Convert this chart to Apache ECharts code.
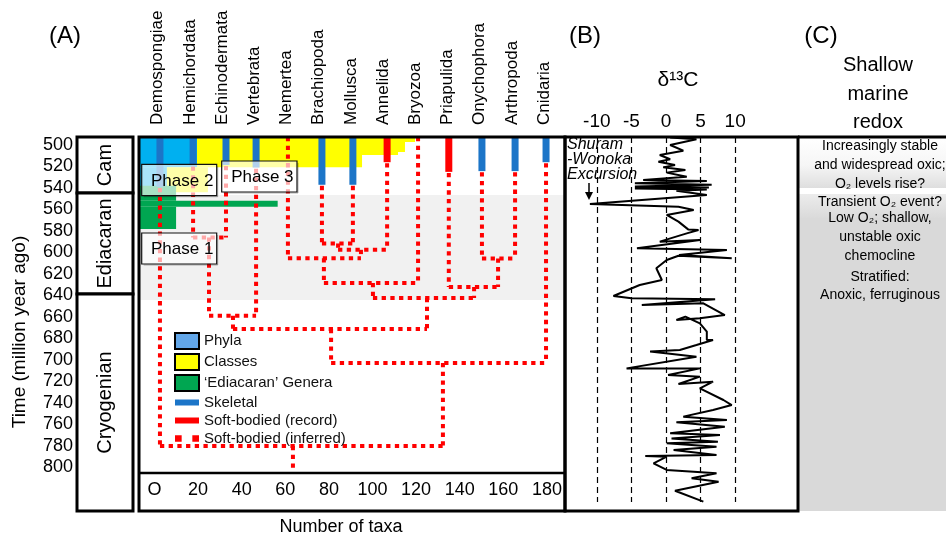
<!DOCTYPE html>
<html>
<head>
<meta charset="utf-8">
<script src="https://cdn.jsdelivr.net/npm/echarts@6/dist/echarts.min.js"></script>
<style>
  html, body { margin: 0; padding: 0; background: #fff; }
  #chart { width: 946px; height: 537px; }
</style>
</head>
<body>
<div id="chart"></div>
<script>
// ---- values ----
const timeTicks = [500, 520, 540, 560, 580, 600, 620, 640, 660, 680, 700, 720, 740, 760, 780, 800]
const taxaTicks = [0, 20, 40, 60, 80, 100, 120, 140, 160, 180]
const d13cTicks = [-10, -5, 0, 5, 10]

const periods = ['Cam', 'Ediacaran', 'Cryogenian']
const periodTop = [492.56, 544.7, 638.6]
const periodBase = [544.7, 638.6, 840.47]
const ediacaranBand = [546.5, 644.2]

const phyla = ['Demospongiae', 'Hemichordata', 'Echinodermata', 'Vertebrata', 'Nemertea', 'Brachiopoda',
  'Mollusca', 'Annelida', 'Bryozoa', 'Priapulida', 'Onychophora', 'Arthropoda', 'Cnidaria']
// position of each lineage on the taxa axis
const phylumX = [2.5, 17.7, 32.8, 46.6, 61.2, 76.8, 91, 106.7, 120.9, 135, 150.2, 165.4, 179.6]
// fossil record at the top of each lineage and the age it reaches down to
const recordType = ['skeletal', 'skeletal', 'skeletal', 'skeletal', null, 'skeletal',
  'skeletal', 'record', null, 'record', 'skeletal', 'skeletal', 'skeletal']
const recordBase = [539, 519, 518.6, 521, null, 537, 537, 516, null, 525, 524.3, 524.3, 516]

// inferred divergences: [clade, child A, child B, age, position]
const clades = [
  ['Ambulacraria', 'Hemichordata', 'Echinodermata', 586, 25],
  ['Deuterostomia', 'Ambulacraria', 'Vertebrata', 658.9, 36],
  ['BraMol', 'Brachiopoda', 'Mollusca', 591.6, 84.2],
  ['BraMolAnn', 'BraMol', 'Annelida', 597.5, 94.7],
  ['NemBraMolAnn', 'Nemertea', 'BraMolAnn', 605.4, 77.7],
  ['Lophotrochozoa', 'NemBraMolAnn', 'Bryozoa', 628.4, 100.2],
  ['OnyArt', 'Onychophora', 'Arthropoda', 605.5, 157.6],
  ['Ecdysozoa', 'Priapulida', 'OnyArt', 632.1, 146.6],
  ['Protostomia', 'Lophotrochozoa', 'Ecdysozoa', 642.3, 125],
  ['Bilateria', 'Deuterostomia', 'Protostomia', 671.2, 81],
  ['Eumetazoa', 'Bilateria', 'Cnidaria', 702.8, 132.3],
  ['Metazoa', 'Demospongiae', 'Eumetazoa', 780, 63.5],
]
const rootBase = 805.1

// diversity steps: [age top, age base, cumulative taxa]
const phylaArea = [[492.56, 520.6, 19.5], [520.6, 544, 5.7]]
const classesArea = [[492.56, 497.2, 119.5], [497.2, 506.5, 114.9], [506.5, 509.3, 111.7],
  [509.3, 520.6, 95.2], [520.6, 544, 24.5]]
const generaArea = [[538, 551.8, 9.9], [551.8, 557.4, 56.5], [557.4, 578.2, 9.9]]

// delta13C curve: [permil, age]
const d13c = [
  [0.6, 493], [4.4, 494.7], [0.6, 500], [2.5, 505.3], [-0.9, 509.3], [0.6, 513.3], [-1.1, 515.5],
  [1.3, 518.6], [-0.4, 520.8], [2.8, 523.3], [0.1, 525.7], [3.0, 529.5], [-3.3, 532.6], [5.9, 533.5],
  [-4.5, 535.5], [6.6, 537], [-4.5, 538.5], [6.2, 539.5], [-4.5, 540.5], [5.9, 541.5], [1.5, 542.5],
  [5.9, 546.5], [-11.0, 554.9], [1.8, 557.4], [4.0, 560.5], [0.1, 565.1], [1.8, 571.3], [3.2, 578.5],
  [4.7, 579.1], [3.0, 582.2], [-0.9, 589.9], [4.9, 588.4], [-4.2, 596.1], [8.8, 597.7], [1.9, 602.3],
  [9.5, 605.4], [1.8, 603], [0.1, 607], [-1.4, 614.7], [-0.6, 625.6], [-3.8, 630.2], [-7.6, 640.5],
  [-5.0, 642.6], [7.1, 643.6], [-3.5, 648.8], [5.4, 647.3], [8.5, 658.2], [4.9, 661.2], [1.5, 662.8],
  [2.8, 659.7], [4.9, 665.9], [5.9, 673.6], [5.9, 681.4], [6.8, 681.4], [4.4, 686.1], [2.0, 690.7],
  [-2.3, 692.2], [4.4, 696.9], [-5.7, 707.8], [4.9, 707.8], [0.3, 714], [4.9, 715.5], [1.8, 722.3],
  [6.8, 720.2], [4.9, 726.4], [8.3, 737.2], [9.5, 741.9], [6.8, 746.5], [2.5, 752.7], [8.8, 755.8],
  [1.5, 758], [8.5, 762], [0.6, 768.2], [7.8, 769.8], [0.8, 773], [7.5, 776], [0.1, 777.5],
  [7.3, 780.6], [1.1, 783.7], [7.3, 788.4], [-3.0, 789.3], [0.1, 789.9], [-1.8, 796.1], [0.1, 802.3],
  [4.0, 803.9], [7.3, 805.4], [3.7, 810.1], [7.6, 813.2], [1.3, 821.6], [5.4, 831.8],
]

// ---- layout ----
const FONT = '"Liberation Sans", Arial, sans-serif'
const T0 = 492.56
const TB = 840.47
const X_MIN = -7.11
const X_MAX = 188.3
const DASH_END = 832.1

const BLUE = '#1c75c8'
const RED = '#ff0000'

// build the tree segments
const node = {}
phyla.forEach((p, i) => {
  node[p] = { x: phylumX[i], t: recordBase[i] == null ? T0 : recordBase[i] + 1 }
})
const treeSegs = []
clades.forEach(([name, a, b, t, x]) => {
  ;[a, b].forEach(c => treeSegs.push([node[c].x, node[c].t, node[c].x, t]))
  treeSegs.push([node[a].x, t, node[b].x, t])
  node[name] = { x, t }
})
treeSegs.push([node.Metazoa.x, node.Metazoa.t, node.Metazoa.x, rootBase])

const spanRect = (params, api) => {
  const a = api.coord([api.value(2), api.value(0)])
  const b = api.coord([api.value(3), api.value(1)])
  return {
    type: 'rect',
    shape: { x: a[0], y: a[1], width: b[0] - a[0], height: b[1] - a[1] },
    style: { fill: api.visual('color') },
  }
}
const barRect = (params, api) => {
  const a = api.coord([api.value(0), api.value(1)])
  const b = api.coord([api.value(0), api.value(2)])
  return {
    type: 'rect',
    shape: { x: a[0] - 3.5, y: a[1], width: 7, height: b[1] - a[1] },
    style: { fill: api.visual('color') },
  }
}
const dotSeg = (params, api) => {
  const a = api.coord([api.value(0), api.value(1)])
  const b = api.coord([api.value(2), api.value(3)])
  return {
    type: 'line',
    shape: { x1: a[0], y1: a[1], x2: b[0], y2: b[1] },
    style: { stroke: api.visual('color'), lineWidth: 4, lineDash: [4.3, 4.4] },
  }
}
const periodBox = (params, api) => {
  const a = api.coord([0, api.value(0)])
  const b = api.coord([1, api.value(1)])
  return {
    type: 'group',
    children: [
      {
        type: 'rect',
        shape: { x: a[0], y: a[1], width: b[0] - a[0], height: b[1] - a[1] },
        style: { fill: '#fff', stroke: '#000', lineWidth: 3 },
      },
      {
        type: 'text',
        x: (a[0] + b[0]) / 2,
        y: (a[1] + b[1]) / 2,
        rotation: Math.PI / 2,
        style: {
          text: periods[params.dataIndex], font: '20px ' + FONT, fill: '#000',
          align: 'center', verticalAlign: 'middle', textAlign: 'center', textVerticalAlign: 'middle',
        },
      },
    ],
  }
}

const skeletalBars = []
const recordBars = []
phyla.forEach((p, i) => {
  if (recordType[i] === 'skeletal') skeletalBars.push([phylumX[i], T0, recordBase[i]])
  if (recordType[i] === 'record') recordBars.push([phylumX[i], T0, recordBase[i]])
})

const txt = (text, x, y, size, extra) => ({
  type: 'text', z: 60,
  style: Object.assign({
    text, x, y, font: size + 'px ' + FONT, fill: '#000',
    align: 'center', verticalAlign: 'middle', textAlign: 'center', textVerticalAlign: 'middle',
  }, extra || {}),
})
const phaseBox = (label, x, y, w, h) => [
  {
    type: 'line', z: 49, shape: { x1: x + 2, y1: y + h + 1, x2: x + w + 1, y2: y + h + 1 },
    style: { stroke: 'rgba(0,0,0,0.3)', lineWidth: 1 },
  },
  {
    type: 'line', z: 49, shape: { x1: x + w + 1, y1: y + 2, x2: x + w + 1, y2: y + h + 1 },
    style: { stroke: 'rgba(0,0,0,0.3)', lineWidth: 1 },
  },
  {
    type: 'rect', z: 50, shape: { x, y, width: w, height: h },
    style: { fill: 'rgba(255,255,255,0.66)', stroke: '#111', lineWidth: 1.2 },
  },
  {
    type: 'text', z: 51,
    style: { text: label, x: x + w / 2 + 3, y: y + h / 2 + 1, font: '17px ' + FONT, fill: '#000',
      align: 'center', verticalAlign: 'middle', textAlign: 'center', textVerticalAlign: 'middle' },
  },
]

const chart = echarts.init(document.getElementById('chart'))
chart.setOption({
  animation: false,
  backgroundColor: '#fff',
  textStyle: { fontFamily: FONT },
  grid: [
    { left: 139, top: 137, width: 426, height: 374 },
    { left: 141.7, top: 137, width: 418.4, height: 374 },
    { left: 77, top: 137, width: 56, height: 374 },
    { left: 565, top: 137, width: 233, height: 374 },
  ],
  xAxis: [
    {
      gridIndex: 0, type: 'value', min: X_MIN, max: X_MAX, position: 'bottom',
      axisLine: { show: false }, axisTick: { show: false }, splitLine: { show: false },
      axisLabel: {
        inside: true, margin: 12, customValues: taxaTicks, fontSize: 18, color: '#000', fontFamily: FONT,
        formatter: v => (v === 0 ? 'O' : String(v)),
      },
    },
    {
      gridIndex: 1, type: 'category', data: phyla, position: 'top',
      axisLine: { show: false }, axisTick: { show: false },
      axisLabel: { rotate: -90, interval: 0, margin: 12, fontSize: 17, color: '#000', fontFamily: FONT },
    },
    { gridIndex: 2, type: 'value', min: 0, max: 1, show: false },
    {
      gridIndex: 3, type: 'value', min: -14.6, max: 19.08, position: 'top',
      axisLine: { show: false }, axisTick: { show: false }, splitLine: { show: false },
      axisLabel: { customValues: d13cTicks, margin: 6, fontSize: 19, color: '#000', fontFamily: FONT },
    },
  ],
  yAxis: [
    { gridIndex: 0, type: 'value', inverse: true, min: T0, max: TB, show: false },
    { gridIndex: 1, type: 'value', inverse: true, min: T0, max: TB, show: false },
    {
      gridIndex: 2, type: 'value', inverse: true, min: T0, max: TB,
      axisLine: { show: false }, axisTick: { show: false }, splitLine: { show: false },
      axisLabel: { customValues: timeTicks, margin: 4, fontSize: 18, color: '#000', fontFamily: FONT },
    },
    { gridIndex: 3, type: 'value', inverse: true, min: T0, max: TB, show: false },
  ],
  legend: {
    left: 174, top: 332, orient: 'vertical', padding: 0, itemGap: 3,
    itemWidth: 24, itemHeight: 16, selectedMode: false,
    textStyle: { fontSize: 15, color: '#111', fontFamily: FONT },
    data: [
      { name: 'Phyla', icon: 'rect', itemStyle: { color: '#62a6e8', borderColor: '#000', borderWidth: 2 } },
      { name: 'Classes', icon: 'rect', itemStyle: { color: '#ffff00', borderColor: '#000', borderWidth: 2 } },
      { name: '\u2018Ediacaran\u2019 Genera', icon: 'rect', itemStyle: { color: '#00a651', borderColor: '#000', borderWidth: 2 } },
      { name: 'Skeletal', icon: 'path://M0 0H24V6H0Z', itemStyle: { color: BLUE } },
      { name: 'Soft-bodied (record)', icon: 'path://M0 0H24V6H0Z', itemStyle: { color: RED } },
      { name: 'Soft-bodied (inferred)', icon: 'path://M0 0H5V5H0ZM13 0H18V5H13Z', itemStyle: { color: RED } },
    ],
  },
  series: [
    {
      name: 'Ediacaran band', type: 'custom', xAxisIndex: 0, yAxisIndex: 0, silent: true, z: 1,
      itemStyle: { color: '#f1f1f1' }, renderItem: spanRect,
      data: [[ediacaranBand[0], ediacaranBand[1], X_MIN, X_MAX]],
    },
    {
      name: 'Phyla', type: 'custom', xAxisIndex: 0, yAxisIndex: 0, silent: true, z: 2,
      itemStyle: { color: '#00b0f0' }, renderItem: spanRect,
      data: phylaArea.map(r => [r[0], r[1], X_MIN, r[2]]),
    },
    {
      name: 'Classes', type: 'custom', xAxisIndex: 0, yAxisIndex: 0, silent: true, z: 2,
      itemStyle: { color: '#ffff00' }, renderItem: spanRect,
      data: classesArea.map(r => {
        const p = phylaArea.find(q => r[0] >= q[0] && r[0] < q[1])
        return [r[0], r[1], p[2], r[2]]
      }),
    },
    {
      name: '\u2018Ediacaran\u2019 Genera', type: 'custom', xAxisIndex: 0, yAxisIndex: 0, silent: true, z: 2,
      itemStyle: { color: '#00a651' }, renderItem: spanRect,
      data: generaArea.map(r => [r[0], r[1], X_MIN, r[2]]),
    },
    {
      name: 'Soft-bodied (inferred)', type: 'custom', xAxisIndex: 0, yAxisIndex: 0, silent: true, z: 3,
      itemStyle: { color: RED }, renderItem: dotSeg, data: treeSegs,
    },
    {
      name: 'Skeletal', type: 'custom', xAxisIndex: 0, yAxisIndex: 0, silent: true, z: 4,
      itemStyle: { color: BLUE }, renderItem: barRect, data: skeletalBars,
    },
    {
      name: 'Soft-bodied (record)', type: 'custom', xAxisIndex: 0, yAxisIndex: 0, silent: true, z: 4,
      itemStyle: { color: RED }, renderItem: barRect, data: recordBars,
    },
    {
      name: 'Periods', type: 'custom', xAxisIndex: 2, yAxisIndex: 2, silent: true, z: 2,
      renderItem: periodBox, data: periods.map((p, i) => [periodTop[i], periodBase[i]]),
    },
    {
      name: 'd13C', type: 'line', xAxisIndex: 3, yAxisIndex: 3, silent: true, z: 5,
      data: d13c, symbol: 'none', lineStyle: { color: '#000', width: 2 },
      markLine: {
        silent: true, symbol: 'none', label: { show: false },
        lineStyle: { color: '#000', width: 1.2, type: [6, 4] },
        data: d13cTicks.map(v => [{ coord: [v, T0] }, { coord: [v, DASH_END] }]),
      },
    },
  ],
  graphic: [
    // panel C shading
    { type: 'rect', z: -5, shape: { x: 798, y: 137, width: 148, height: 374 }, style: { fill: '#d9d9d9' } },
    {
      type: 'rect', z: -4, shape: { x: 798, y: 137, width: 148, height: 51 },
      style: { fill: { type: 'linear', x: 0, y: 0, x2: 0, y2: 1,
        colorStops: [{ offset: 0, color: '#ffffff' }, { offset: 0.55, color: '#f6f6f6' }, { offset: 1, color: '#dedede' }] } },
    },
    { type: 'rect', z: -4, shape: { x: 798, y: 188, width: 148, height: 6 }, style: { fill: '#ffffff' } },
    {
      type: 'rect', z: -4, shape: { x: 798, y: 194, width: 148, height: 24 },
      style: { fill: { type: 'linear', x: 0, y: 0, x2: 0, y2: 1,
        colorStops: [{ offset: 0, color: '#ececec' }, { offset: 1, color: '#dadada' }] } },
    },
    // frames
    { type: 'rect', z: 70, shape: { x: 139, y: 137, width: 426, height: 374 }, style: { fill: 'transparent', stroke: '#000', lineWidth: 3 } },
    { type: 'rect', z: 70, shape: { x: 565, y: 137, width: 233, height: 374 }, style: { fill: 'transparent', stroke: '#000', lineWidth: 3 } },
    { type: 'line', z: 70, shape: { x1: 139, y1: 473, x2: 565, y2: 473 }, style: { stroke: '#000', lineWidth: 2.5 } },
    { type: 'line', z: 70, shape: { x1: 798, y1: 137, x2: 946, y2: 137 }, style: { stroke: '#000', lineWidth: 3 } },
    // phase annotations
    ...phaseBox('Phase 2', 141.7, 164.3, 75, 31.4),
    ...phaseBox('Phase 3', 221.7, 161, 75.3, 31),
    ...phaseBox('Phase 1', 141.7, 233, 75, 31),
    // panel labels and titles
    txt('(A)', 65, 36, 24),
    txt('(B)', 585, 36, 24),
    txt('(C)', 821, 36, 24),
    txt('\u03b4\u00b9\u00b3C', 678, 80, 21),
    txt('Shallow\nmarine\nredox', 878, 94, 20, { lineHeight: 28.5 }),
    txt('Number of taxa', 341, 527, 18),
    {
      type: 'text', z: 60, x: 20, y: 332, rotation: Math.PI / 2,
      style: { text: 'Time (million year ago)', font: '19px ' + FONT, fill: '#000',
        align: 'center', verticalAlign: 'middle', textAlign: 'center', textVerticalAlign: 'middle' },
    },
    // Shuram-Wonoka note
    txt('Shuram', 567, 145, 16, { font: 'italic 16px ' + FONT, align: 'left', textAlign: 'left' }),
    txt('-Wonoka', 567, 160, 16, { font: 'italic 16px ' + FONT, align: 'left', textAlign: 'left' }),
    txt('Excursion', 567, 175, 16, { font: 'italic 16px ' + FONT, align: 'left', textAlign: 'left' }),
    { type: 'line', z: 60, shape: { x1: 589, y1: 183, x2: 589, y2: 194 }, style: { stroke: '#000', lineWidth: 1.5 } },
    { type: 'polygon', z: 60, shape: { points: [[585, 192], [593, 192], [589, 200]] }, style: { fill: '#000' } },
    // redox notes
    txt('Increasingly stable', 880, 146, 14),
    txt('and widespread oxic;', 880, 165, 14),
    txt('O\u2082 levels rise?', 880, 184, 14),
    txt('Transient O\u2082 event?', 880, 202, 14),
    txt('Low O\u2082; shallow,', 880, 218, 14),
    txt('unstable oxic', 880, 237, 14),
    txt('chemocline', 880, 256, 14),
    txt('Stratified:', 880, 277, 14),
    txt('Anoxic, ferruginous', 880, 295, 14),
  ],
})
</script>
</body>
</html>
